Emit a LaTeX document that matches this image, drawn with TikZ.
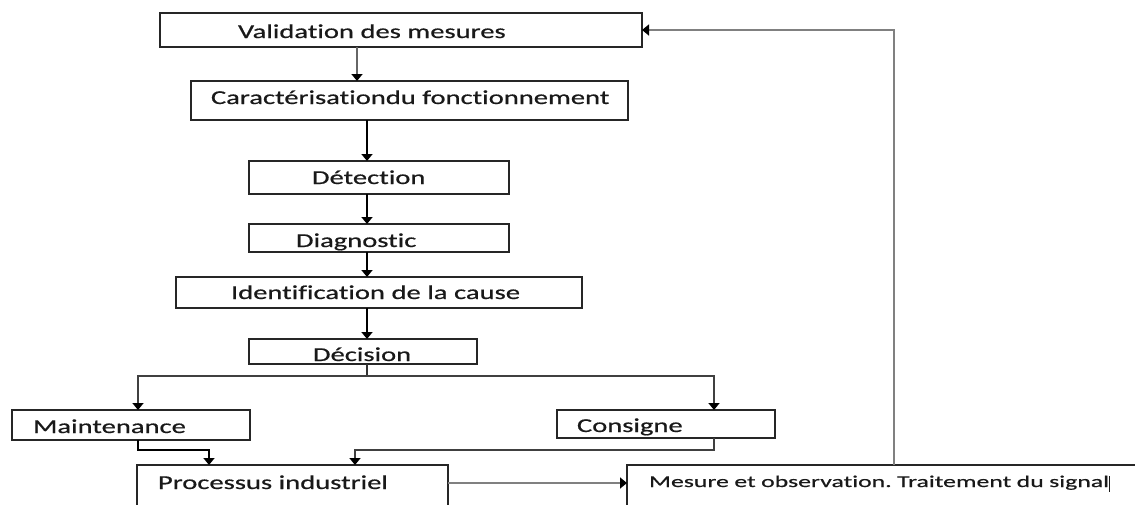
\documentclass[tikz,border=0pt]{standalone}
\usepackage{fontspec}
\newfontfamily\fa{Carlito}[FakeStretch=1.45, FakeBold=0.6, Ligatures=NoCommon]
\newfontfamily\fb{Carlito}[FakeStretch=1.56, FakeBold=0.5, Ligatures=NoCommon]
\usetikzlibrary{arrows.meta}
\frenchspacing
\tikzset{
  box/.style={draw=black!85, line width=1.5pt, anchor=north west, outer sep=0pt,
    inner ysep=0pt, align=left, text=black!90, font=\fa\fontsize{19.7}{22}\selectfont},
  arr/.style={line width=1.6pt, -{Triangle[width=11pt,length=7pt,color=black]}},
  ln/.style={line width=1.6pt},
}
\begin{document}
\begin{tikzpicture}[x=1pt,y=-1pt]
\useasboundingbox (0,0) rectangle (1135,504);
\fill[white] (0,0) rectangle (1135,504);
\clip (0,0) rectangle (1135,504);

\node[box, inner xsep=78pt, text width=326pt, text height=25pt, text depth=9pt] (val) at (160,13) {\mbox{Validation des mesures}};
\node[box, inner xsep=20pt, text width=397pt, text height=23pt, text depth=16pt] (car) at (191,81) {\mbox{Caractérisationdu fonctionnement}};
\node[box, inner xsep=63pt, text width=134pt, text height=23pt, text depth=10pt] (det) at (249,161) {\mbox{Détection}};
\node[box, inner xsep=47pt, text width=166pt, text height=23pt, text depth=5pt] (dia) at (249,224) {\mbox{Diagnostic}};
\node[box, inner xsep=55pt, text width=296pt, text height=22pt, text depth=9pt] (ide) at (176,277) {\mbox{Identification de la cause}};
\node[box, inner xsep=64pt, text width=100pt, text height=22pt, text depth=3pt] (dec) at (249,339) {\mbox{Décision}};
\node[box, inner xsep=21pt, text width=196pt, text height=23pt, text depth=7pt] (mai) at (12,410) {\mbox{Maintenance}};
\node[box, inner xsep=20pt, text width=178pt, text height=22pt, text depth=6pt] (con) at (557,410) {\mbox{Consigne}};
\node[box, inner xsep=21pt, text width=269pt, text height=24pt, text depth=41pt] (pro) at (137,465) {\mbox{Processus industriel}};
\node[box, inner xsep=22pt, text width=509pt, text height=22pt, text depth=43pt,
  font=\fb\fontsize{16.5}{20}\selectfont] (mes) at (627,465) {\mbox{Mesure et observation. Traitement du signal\rule[-4.5pt]{1.3pt}{16pt}}};

\coordinate (xa) at (357,0);
\coordinate (xb) at (367,0);
\coordinate (jn) at (367,376);
\coordinate (bl) at (138,376);
\coordinate (br) at (714,376);
\coordinate (m1) at (209,450);
\coordinate (c1) at (355,450);
\coordinate (pm) at (0,483);
\coordinate (fb) at (894,30);

\draw[arr, draw=black!60] (val.south -| xa) -- (car.north -| xa);
\draw[arr] (car.south -| xb) -- (det.north -| xb);
\draw[arr] (det.south -| xb) -- (dia.north -| xb);
\draw[arr] (dia.south -| xb) -- (ide.north -| xb);
\draw[arr] (ide.south -| xb) -- (dec.north -| xb);
\draw[ln, draw=black!80] (dec.south -| jn) -- (jn);
\draw[arr, draw=black!75] (jn) -- (bl) -- (mai.north -| bl);
\draw[arr, draw=black!75] (jn) -- (br) -- (con.north -| br);
\draw[arr] (mai.south -| bl) |- (m1) -- (pro.north -| m1);
\draw[arr, draw=black!75] (con.south -| br) |- (c1) -- (pro.north -| c1);
\draw[arr, draw=black!50] (pro.east |- pm) -- (mes.west |- pm);
\draw[arr, draw=black!50] (mes.north -| fb) -- (fb) -- (val.east |- fb);
\end{tikzpicture}
\end{document}
